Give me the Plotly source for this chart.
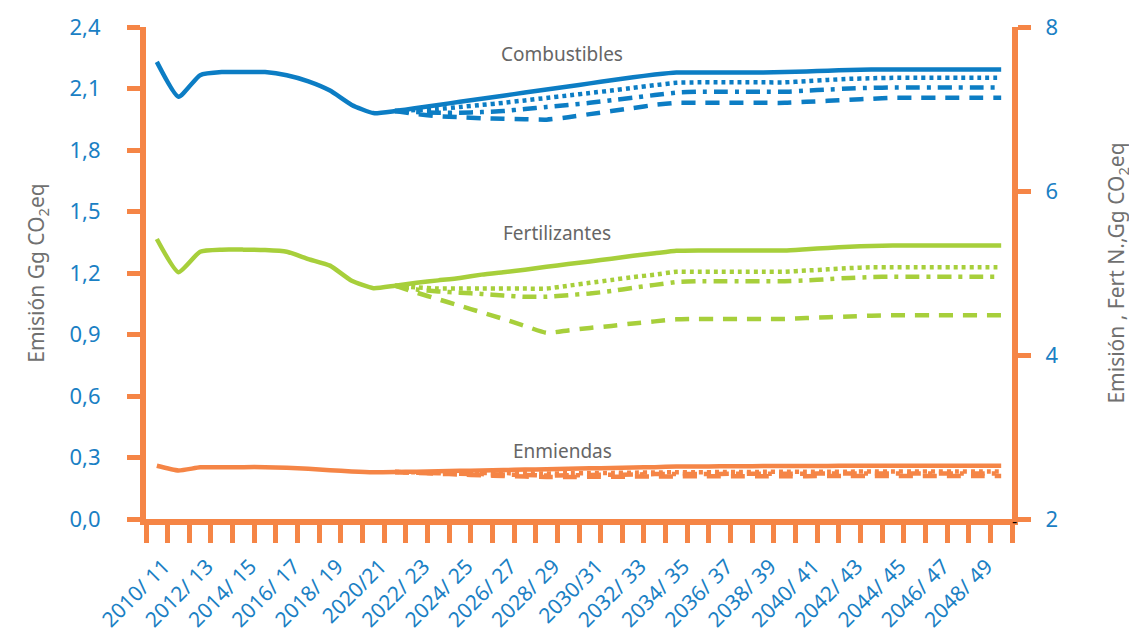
import plotly.graph_objects as go

# campañas 2010/11 ... 2049/50
campanas = [f"{y}/ {str(y + 1)[-2:]}" for y in range(2010, 2050)]
etiquetas = ["2010/ 11", "", "2012/ 13", "", "2014/ 15", "", "2016/ 17", "", "2018/ 19", "",
             "2020/21", "", "2022/ 23", "", "2024/ 25", "", "2026/ 27", "", "2028/ 29", "",
             "2030/31", "", "2032/ 33", "", "2034/ 35", "", "2036/ 37", "", "2038/ 39", "",
             "2040/ 41", "", "2042/ 43", "", "2044/ 45", "", "2046/ 47", "", "2048/ 49", ""]

N = None
# Combustibles (eje izquierdo, Gg CO2eq)
comb_base = [2.23, 2.06, 2.165, 2.18, 2.18, 2.18, 2.165, 2.135, 2.09, 2.02,
             1.98, 1.99, 2.005, 2.02, 2.035, 2.05, 2.065, 2.08, 2.095, 2.11,
             2.125, 2.14, 2.155, 2.168, 2.178, 2.178, 2.178, 2.178, 2.178, 2.18,
             2.183, 2.187, 2.19, 2.193, 2.193, 2.193, 2.193, 2.193, 2.193, 2.193]
comb_esc1 = [N] * 11 + [1.99, 1.995, 2.0, 2.01, 2.02, 2.03, 2.042, 2.054, 2.066,
                        2.078, 2.09, 2.103, 2.116, 2.128, 2.13, 2.13, 2.13, 2.13, 2.13,
                        2.136, 2.142, 2.147, 2.15, 2.152, 2.152, 2.152, 2.152, 2.152, 2.152]
comb_esc2 = [N] * 11 + [1.99, 1.985, 1.982, 1.982, 1.985, 1.99, 2.0, 2.01, 2.02,
                        2.03, 2.043, 2.055, 2.068, 2.08, 2.084, 2.084, 2.084, 2.084, 2.084,
                        2.09, 2.095, 2.1, 2.103, 2.105, 2.105, 2.105, 2.105, 2.105, 2.105]
comb_esc3 = [N] * 11 + [1.99, 1.975, 1.965, 1.96, 1.955, 1.952, 1.95, 1.948, 1.96,
                        1.975, 1.99, 2.005, 2.02, 2.03, 2.03, 2.03, 2.03, 2.03, 2.03,
                        2.035, 2.04, 2.045, 2.05, 2.055, 2.055, 2.055, 2.055, 2.055, 2.055]

# Fertilizantes (eje derecho, Fert N)
fert_base = [5.415, 5.01, 5.26, 5.285, 5.285, 5.28, 5.26, 5.17, 5.09, 4.905,
             4.815, 4.845, 4.88, 4.91, 4.94, 4.98, 5.01, 5.04, 5.075, 5.11,
             5.14, 5.175, 5.21, 5.24, 5.27, 5.275, 5.275, 5.275, 5.275, 5.275,
             5.29, 5.305, 5.32, 5.33, 5.335, 5.335, 5.335, 5.335, 5.335, 5.335]
fert_esc1 = [N] * 11 + [4.845, 4.825, 4.81, 4.81, 4.81, 4.81, 4.81, 4.81, 4.845,
                        4.88, 4.915, 4.95, 4.98, 5.015, 5.015, 5.015, 5.015, 5.015, 5.015,
                        5.03, 5.045, 5.06, 5.07, 5.07, 5.07, 5.07, 5.07, 5.07, 5.07]
fert_esc2 = [N] * 11 + [4.845, 4.80, 4.775, 4.76, 4.745, 4.725, 4.71, 4.71, 4.73,
                        4.75, 4.78, 4.82, 4.855, 4.89, 4.9, 4.9, 4.9, 4.9, 4.9,
                        4.91, 4.925, 4.94, 4.95, 4.955, 4.955, 4.955, 4.955, 4.955, 4.955]
fert_esc3 = [N] * 11 + [4.845, 4.76, 4.68, 4.6, 4.52, 4.44, 4.355, 4.27, 4.3,
                        4.33, 4.355, 4.385, 4.41, 4.435, 4.44, 4.44, 4.44, 4.44, 4.44,
                        4.45, 4.46, 4.47, 4.48, 4.485, 4.485, 4.485, 4.485, 4.485, 4.485]

# Enmiendas (eje izquierdo)
enm_base = [0.26, 0.237, 0.252, 0.253, 0.253, 0.253, 0.25, 0.245, 0.238, 0.232,
            0.228, 0.229, 0.231, 0.233, 0.235, 0.237, 0.239, 0.241, 0.243, 0.245,
            0.247, 0.249, 0.251, 0.253, 0.256, 0.256, 0.257, 0.257, 0.258, 0.258,
            0.259, 0.259, 0.26, 0.26, 0.26, 0.26, 0.26, 0.26, 0.26, 0.26]
enm_esc1 = [N] * 11 + [0.229, 0.228, 0.227, 0.226, 0.225, 0.224, 0.223, 0.222, 0.223,
                       0.224, 0.225, 0.226, 0.227, 0.228, 0.228, 0.229, 0.229, 0.23, 0.23,
                       0.23, 0.231, 0.231, 0.232, 0.232, 0.232, 0.232, 0.232, 0.232, 0.232]
enm_esc2 = [N] * 11 + [0.229, 0.226, 0.223, 0.221, 0.219, 0.217, 0.215, 0.212, 0.213,
                       0.215, 0.216, 0.217, 0.219, 0.22, 0.22, 0.22, 0.221, 0.221, 0.221,
                       0.221, 0.222, 0.222, 0.222, 0.222, 0.222, 0.222, 0.222, 0.222, 0.222]
enm_esc3 = [N] * 11 + [0.229, 0.225, 0.221, 0.217, 0.213, 0.21, 0.207, 0.205, 0.205,
                       0.206, 0.206, 0.207, 0.207, 0.208, 0.208, 0.208, 0.209, 0.209, 0.209,
                       0.209, 0.21, 0.21, 0.21, 0.21, 0.21, 0.21, 0.21, 0.21, 0.21]

AZUL = "#0C7DC4"
VERDE = "#A7CF3B"
NARANJA = "#F58546"
TXT_AZUL = "#1A80C4"
GRIS = "#707070"

DOT = "4px,4px"
DASHDOT = "14px,7px,4px,7px"
DASH = "14px,10px"

fig = go.Figure()


def add(y, color, dash, axis="y", width=4.5):
    fig.add_trace(go.Scatter(x=campanas, y=y, mode="lines", yaxis=axis,
                             line=dict(color=color, width=width, dash=dash, shape="spline", smoothing=0.5),
                             connectgaps=False, hoverinfo="skip"))


for serie, dash in [(enm_esc3, DASH), (enm_esc2, DASHDOT), (enm_esc1, DOT), (enm_base, "solid")]:
    add(serie, NARANJA, dash)
for serie, dash in [(comb_esc3, DASH), (comb_esc2, DASHDOT), (comb_esc1, DOT), (comb_base, "solid")]:
    add(serie, AZUL, dash)
for serie, dash in [(fert_esc3, DASH), (fert_esc2, DASHDOT), (fert_esc1, DOT), (fert_base, "solid")]:
    add(serie, VERDE, dash, axis="y2")

fuente = "Noto Sans"
fig.update_layout(
    width=1137, height=641,
    margin=dict(l=138, r=133, t=19, b=130),
    paper_bgcolor="white", plot_bgcolor="white",
    showlegend=False, separators=", ",
    font=dict(family=fuente, color=GRIS),
    xaxis=dict(type="category", range=[-0.5, 39.5], tickvals=campanas, ticktext=etiquetas,
               tickson="boundaries", ticks="outside", ticklen=18, tickwidth=5, tickcolor=NARANJA,
               showline=True, linewidth=6, linecolor=NARANJA, showgrid=False, tickangle=-45,
               automargin=False, ticklabelstandoff=21, ticklabelshift=7,
               tickfont=dict(size=21, color=TXT_AZUL, family=fuente)),
    yaxis=dict(range=[0, 2.4], dtick=0.3, tickformat=".1f", showgrid=False, zeroline=False,
               showline=True, linewidth=6, linecolor=NARANJA, ticks="outside", ticklen=13,
               tickwidth=5, tickcolor=NARANJA, tickfont=dict(size=22, color=TXT_AZUL, family=fuente),
               automargin=False, ticklabelstandoff=22,
               title=dict(text="Emisión Gg CO<sub>2</sub>eq", font=dict(size=21, color=GRIS), standoff=21)),
    yaxis2=dict(range=[2, 8], dtick=2, overlaying="y", side="right", showgrid=False, zeroline=False,
                showline=True, linewidth=6, linecolor=NARANJA, ticks="outside", ticklen=13,
                tickwidth=5, tickcolor=NARANJA, tickfont=dict(size=22, color=TXT_AZUL, family=fuente),
                automargin=False, ticklabelstandoff=10,
                title=dict(text="Emisión , Fert N.,Gg CO<sub>2</sub>eq", font=dict(size=21, color=GRIS),
                           standoff=54)),
)

for texto, xi, yv in [("Combustibles", 18.7, 2.267), ("Fertilizantes", 18.5, 1.396), ("Enmiendas", 18.76, 0.333)]:
    fig.add_annotation(x=xi, y=yv, xref="x", yref="y", text=texto, showarrow=False,
                       font=dict(size=19, color="#666666", family=fuente))

fig.add_annotation(x=1.003, y=-0.004, xref="paper", yref="paper", text="-", showarrow=False,
                   font=dict(size=16, color="black"), xanchor="center", yanchor="middle")

fig.write_html("out.html")
